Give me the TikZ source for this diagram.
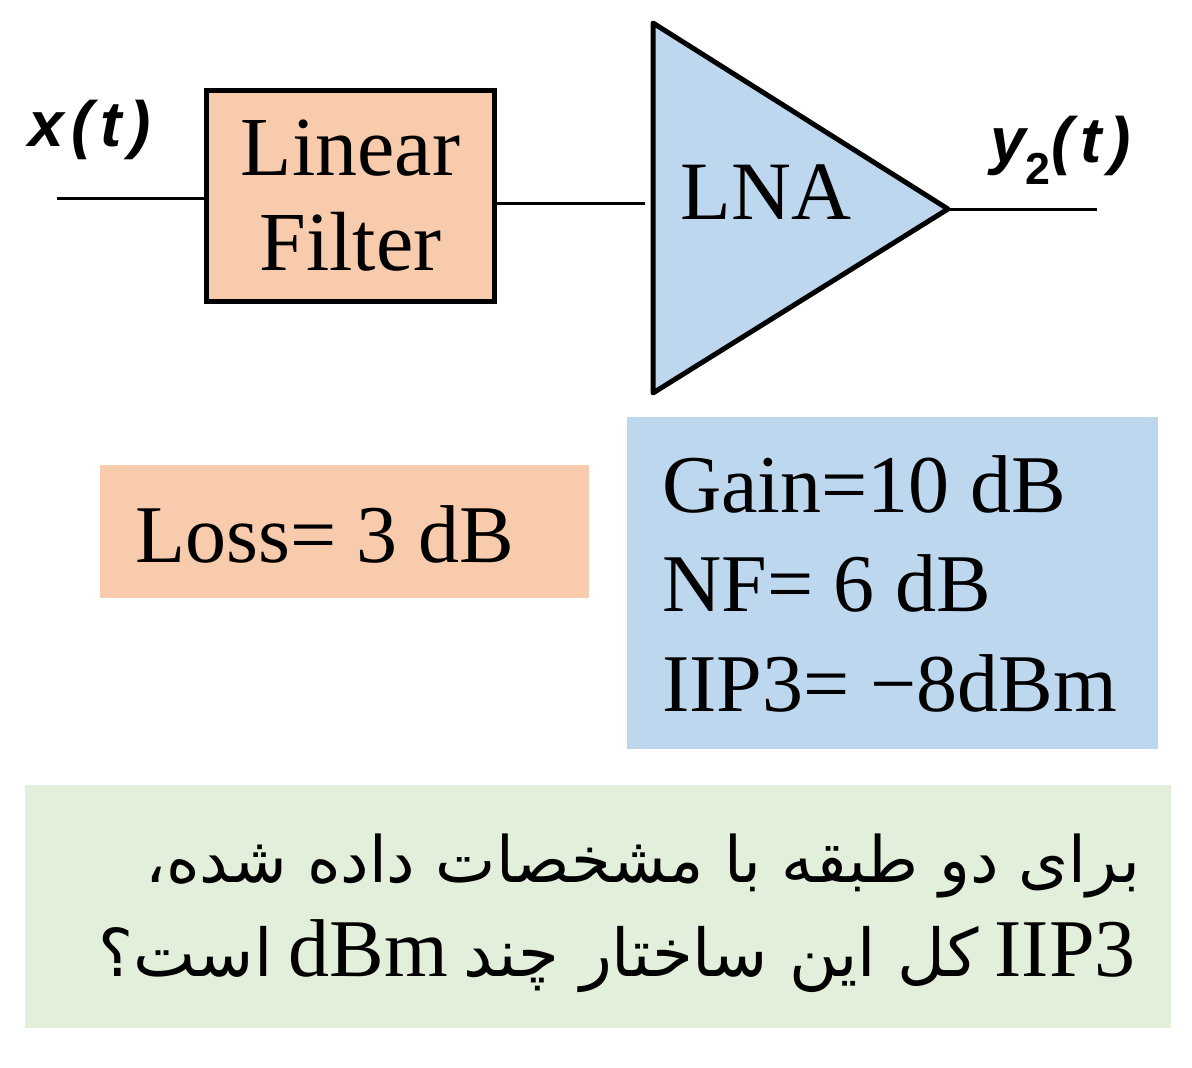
\documentclass[tikz,border=0pt]{standalone}
\usepackage{fontspec}
\setmainfont{Liberation Serif}
\setsansfont{Liberation Sans}
\newfontfamily\farsi[Script=Arabic]{DejaVu Sans}
\TeXXeTstate=1
\usetikzlibrary{positioning}
\definecolor{peach}{HTML}{F8CBAD}
\definecolor{lnablue}{HTML}{BDD7EE}
\definecolor{notegreen}{HTML}{E2EFDA}
\newcommand{\gap}{\hspace{0.12em}}
\tikzset{
  blockbox/.style={draw, line width=5pt, fill=peach, minimum width=288pt,
    minimum height=211pt, align=center, inner sep=0pt,
    font=\fontsize{84}{95}\selectfont},
  wire/.style={line width=3pt},
  sig/.style={font=\fontsize{64}{70}\selectfont\sffamily\bfseries\itshape, inner sep=0pt},
  param/.style={font=\fontsize{82}{90}\selectfont, anchor=base west, inner sep=0pt},
  note/.style={font=\fontsize{64}{70}\selectfont, anchor=base east, inner sep=0pt},
}
\begin{document}
\begin{tikzpicture}[x=1pt, y=-1pt]
  \useasboundingbox (0,0) rectangle (1192,1068);
  % signal chain
  \node[blockbox] (filter) at (350.5,196) {Linear\\Filter};
  \coordinate (in) at (57,198);
  \coordinate (lnaT) at (653,23);
  \coordinate (lnaB) at (653,393);
  \coordinate (lnaO) at (948,209);
  \coordinate (out) at (1097,209);
  \draw[line width=5pt, line join=round, fill=lnablue] (lnaT) -- (lnaO) -- (lnaB) -- cycle;
  \node[font=\fontsize{83}{90}\selectfont, inner sep=0pt] (lnalbl) at (766,192) {LNA};
  \draw[wire] (in) -- (in -| filter.west);
  \draw[wire] (filter.east |- 0,203) -- (645,203);
  \draw[wire] (lnaO) -- (out);
  \node[sig, anchor=base west] (xin) at (28,146) {x\gap(\gap t\gap)};
  \node[sig, anchor=base west] (yout) at (990,162) {y\textsubscript{\upshape 2}(\gap t\gap)};
  % specs
  \fill[peach] (100,465) rectangle (589,598);
  \node[param] (loss) at (135,562) {Loss= 3 dB};
  \fill[lnablue] (627,417) rectangle (1158,749);
  \node[param] (gain) at (662,512) {Gain=10 dB};
  \node[param] (nf) at (662,611) {NF= 6 dB};
  \node[param] (iip) at (662,711) {IIP3= −8dBm};
  % question
  \fill[notegreen] (25,785) rectangle (1171,1028);
  \node[note] (q1) at (1140,882) {\farsi\beginR برای دو طبقه با مشخصات داده شده،\endR};
  \node[note] (q2) at (1136,976) {\beginR\beginL{\fontsize{82}{88}\selectfont IIP3}\endL\ {\fontsize{66}{70}\selectfont\farsi کل این ساختار چند}\ \beginL{\fontsize{82}{88}\selectfont dBm}\endL\ {\fontsize{66}{70}\selectfont\farsi است؟}\endR};
\end{tikzpicture}
\end{document}
